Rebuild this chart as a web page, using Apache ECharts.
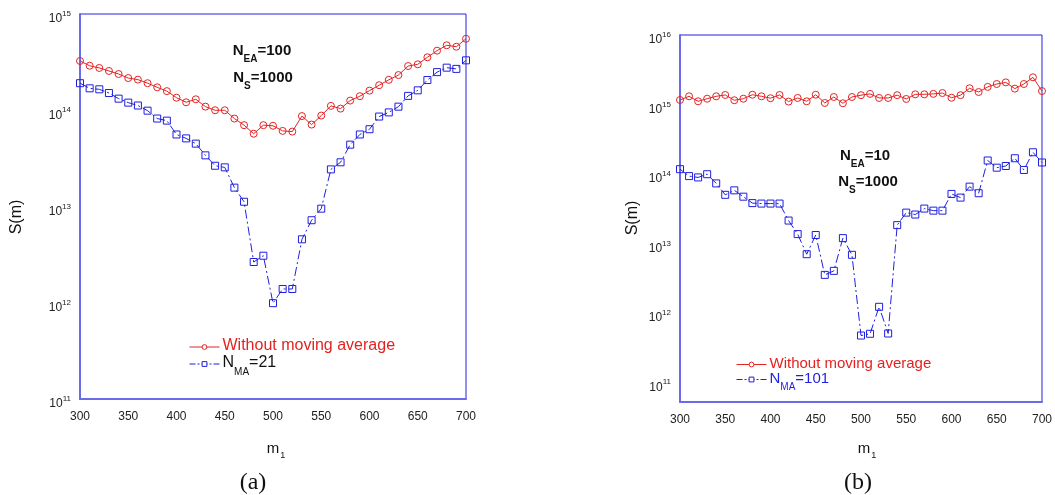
<!DOCTYPE html>
<html><head><meta charset="utf-8">
<script src="https://cdn.jsdelivr.net/npm/echarts@6/dist/echarts.min.js"></script>
<style>html,body{margin:0;padding:0;background:#fff}#c{width:1055px;height:495px}</style>
</head><body><div id="c"></div>
<script>
const mValues = [300,310,320,330,340,350,360,370,380,390,400,410,420,430,440,450,460,470,480,490,500,510,520,530,540,550,560,570,580,590,600,610,620,630,640,650,660,670,680,690,700];
const xTicks = [300,350,400,450,500,550,600,650,700];

// Panel (a): N_EA=100, N_S=1000
const aWithout = [3.25e14,2.90e14,2.75e14,2.56e14,2.38e14,2.16e14,2.08e14,1.91e14,1.73e14,1.58e14,1.35e14,1.21e14,1.30e14,1.09e14,1.00e14,1.00e14,8.2e13,7.0e13,5.7e13,7.0e13,6.9e13,6.1e13,6.0e13,8.7e13,7.1e13,8.8e13,1.11e14,1.04e14,1.26e14,1.40e14,1.60e14,1.82e14,2.07e14,2.32e14,2.88e14,3.0e14,3.55e14,4.16e14,4.73e14,4.57e14,5.53e14];
const aMA21 = [1.91e14,1.69e14,1.65e14,1.51e14,1.32e14,1.20e14,1.12e14,9.9e13,8.2e13,7.8e13,5.6e13,5.1e13,4.5e13,3.4e13,2.65e13,2.55e13,1.57e13,1.12e13,2.65e12,3.08e12,9.9e11,1.39e12,1.39e12,4.56e12,7.2e12,9.5e12,2.43e13,2.88e13,4.39e13,5.6e13,6.35e13,8.6e13,9.5e13,1.09e14,1.41e14,1.61e14,2.06e14,2.49e14,2.77e14,2.69e14,3.30e14];

// Panel (b): N_EA=10, N_S=1000
const bWithout = [1.16e15,1.31e15,1.11e15,1.21e15,1.31e15,1.37e15,1.15e15,1.21e15,1.38e15,1.31e15,1.23e15,1.37e15,1.10e15,1.24e15,1.11e15,1.38e15,1.05e15,1.28e15,1.04e15,1.28e15,1.36e15,1.42e15,1.24e15,1.24e15,1.36e15,1.20e15,1.40e15,1.40e15,1.42e15,1.46e15,1.25e15,1.36e15,1.71e15,1.51e15,1.79e15,1.97e15,2.08e15,1.69e15,1.97e15,2.46e15,1.56e15];
const bMA101 = [1.17e14,9.3e13,8.9e13,9.9e13,7.3e13,5.0e13,5.8e13,4.7e13,3.8e13,3.74e13,3.74e13,3.74e13,2.13e13,1.36e13,6.98e12,1.32e13,3.52e12,4.02e12,1.19e13,6.84e12,4.71e11,4.99e11,1.22e12,5.04e11,1.83e13,2.77e13,2.60e13,3.17e13,2.96e13,2.96e13,5.15e13,4.56e13,6.56e13,5.27e13,1.56e14,1.23e14,1.30e14,1.68e14,1.14e14,2.05e14,1.46e14];

const RED = '#e42222', BLUE = '#1f1fe0';
const FONT = 'Arial, "Liberation Sans", sans-serif';
const pairs = arr => arr.map((v,i)=>[mValues[i], v]);

function yFmt(v){
  const e = Math.log10(v);
  if (Math.abs(e - Math.round(e)) > 0.02) return '';
  return '{b|10}{sup|' + Math.round(e) + '}';
}
const yRich = {
  b:{fontSize:12, lineHeight:12, padding:[5,0,4,0], verticalAlign:'top', color:'#222', fontFamily:FONT},
  sup:{fontSize:8, lineHeight:8, padding:[2,0,0,0], verticalAlign:'top', color:'#222', fontFamily:FONT}
};
function xAxis(gi){
  return {type:'value', gridIndex:gi, min:300, max:700, interval:50,
    axisLine:{show:true, lineStyle:{color:'#6a6aea', width:2}},
    axisTick:{show:false}, splitLine:{show:false},
    axisLabel:{margin:12, fontSize:12, color:'#222', fontFamily:FONT,
      customValues: xTicks}};
}
function yAxis(gi, mn, mx){
  return {type:'log', logBase:10, gridIndex:gi, min:mn, max:mx,
    axisLine:{show:true, lineStyle:{color:'#6a6aea', width:2}},
    axisTick:{show:false}, splitLine:{show:false}, minorTick:{show:false},
    axisLabel:{margin:9, formatter:yFmt, rich:yRich, showMinLabel:true}};
}
function redSeries(xi, data, name){
  return {type:'line', name:name, xAxisIndex:xi, yAxisIndex:xi, data:pairs(data),
    symbol:'circle', symbolSize:7, showAllSymbol:true,
    lineStyle:{color:RED, width:1}, itemStyle:{color:'rgba(255,255,255,0)', borderColor:RED, borderWidth:1},
    emphasis:{disabled:true}, animation:false, z:3};
}
function blueSeries(xi, data, name){
  return {type:'line', name:name, xAxisIndex:xi, yAxisIndex:xi, data:pairs(data),
    symbol:'rect', symbolSize:7, showAllSymbol:true,
    lineStyle:{color:BLUE, width:1, type:[9,3,2,3]}, itemStyle:{color:'rgba(255,255,255,0)', borderColor:BLUE, borderWidth:1},
    emphasis:{disabled:true}, animation:false, z:2};
}
function legRich(size){
  return {
    n:{fontSize:size, lineHeight:size+2, fontFamily:FONT, verticalAlign:'top'},
    s:{fontSize:10, lineHeight:10, fontFamily:FONT, verticalAlign:'top', padding:[size-4,0,0,0]}
  };
}
function legendFmt(name){
  if (name.indexOf('N_MA') === 0) return '{n|N}{s|MA}{n|' + name.slice(4) + '}';
  return '{n|' + name + '}';
}
function legItem(name, color, textColor, dashed){
  return {name:name, textStyle:{color:textColor},
    itemStyle:{color:'#ffffff', borderColor:color, borderWidth:1},
    lineStyle:{color:color, width:1, type: dashed ? [6,2,2,2] : 'solid'}};
}
function annot(x, y, sub, rest){
  return {type:'text', x:x, y:y, style:{
    text:'{n|N}{s|'+sub+'}{n|'+rest+'}', align:'center', verticalAlign:'middle',
    rich:{n:{fontSize:15, fontWeight:'bold', fontFamily:FONT, fill:'#111', verticalAlign:'top', lineHeight:17},
          s:{fontSize:10, fontWeight:'bold', fontFamily:FONT, fill:'#111', verticalAlign:'top', lineHeight:10, padding:[11,0,0,0]}}}};
}
function txt(x, y, t, size, family, rot){
  return {type:'text', x:x, y:y, rotation:rot||0, style:{text:t, fontSize:size, fontFamily:family, fill:'#111', align:'center', verticalAlign:'middle'}};
}
function mLabel(x, y){
  return {type:'text', x:x, y:y, style:{text:'{m|m}{s|1}', align:'center', verticalAlign:'middle',
    rich:{m:{fontSize:15, fontFamily:FONT, fill:'#111', verticalAlign:'top', lineHeight:15},
          s:{fontSize:9, fontFamily:FONT, fill:'#111', verticalAlign:'top', lineHeight:9, padding:[10,0,0,1]}}}};
}

const option = {
  animation:false,
  grid:[
    {left:80, right:589, top:14, bottom:96, containLabel:false, show:true, borderColor:'#2424dc', borderWidth:1},
    {left:680, right:7, top:35, bottom:93, containLabel:false, show:true, borderColor:'#2424dc', borderWidth:1}
  ],
  xAxis:[xAxis(0), xAxis(1)],
  yAxis:[yAxis(0, 1e11, 1e15), yAxis(1, 5.2e10, 1e16)],
  legend:[
    {left:184, top:333, orient:'vertical', itemWidth:30, itemHeight:6, itemGap:1, selectedMode:false,
     data:[legItem('Without moving average', RED, RED, false), legItem('N_MA=21', BLUE, '#111', true)],
     formatter:legendFmt, textStyle:{rich:legRich(16), padding:[0,0,0,-2]}},
    {left:731, top:351, orient:'vertical', itemWidth:30, itemHeight:6, itemGap:0, selectedMode:false,
     data:[legItem('Without moving average', RED, RED, false), legItem('N_MA=101', BLUE, BLUE, true)],
     formatter:legendFmt, textStyle:{rich:legRich(15), padding:[0,0,0,-2]}}
  ],
  series:[
    blueSeries(0, aMA21, 'N_MA=21'),
    redSeries(0, aWithout, 'Without moving average'),
    blueSeries(1, bMA101, 'N_MA=101'),
    redSeries(1, bWithout, 'Without moving average')
  ],
  graphic:[
    annot(262, 52, 'EA', '=100'), annot(263, 79, 'S', '=1000'),
    annot(865, 157, 'EA', '=10'), annot(868, 183, 'S', '=1000'),
    txt(17, 217, 'S(m)', 16, FONT, Math.PI/2), txt(633, 218, 'S(m)', 16, FONT, Math.PI/2),
    mLabel(276, 449), mLabel(867, 449),
    txt(253, 483, '(a)', 24, '"Liberation Serif", "Times New Roman", serif'),
    txt(858, 483, '(b)', 24, '"Liberation Serif", "Times New Roman", serif')
  ]
};
const chart = echarts.init(document.getElementById('c'), null, {renderer:'canvas'});
chart.setOption(option);
</script></body></html>
